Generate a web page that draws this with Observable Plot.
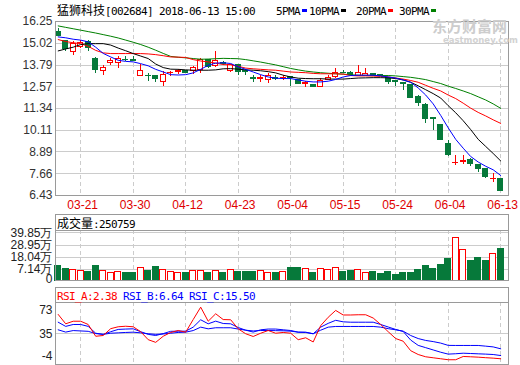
<!DOCTYPE html>
<html><head><meta charset="utf-8">
<script src="https://cdn.jsdelivr.net/npm/d3@7"></script>
<script src="https://cdn.jsdelivr.net/npm/@observablehq/plot@0.6"></script>
<style>
html,body{margin:0;padding:0;background:#fff;}
#wrap{position:relative;width:520px;height:365px;overflow:hidden;}
.abs{position:absolute;}
.line{position:absolute;height:14px;line-height:14px;white-space:nowrap;color:#000;}
.c{font-family:"Noto Sans CJK SC",sans-serif;font-size:12px;}
.a{font-family:"DejaVu Sans Mono",monospace;font-size:11px;letter-spacing:-0.62px;}
.sq{display:inline-block;width:5px;height:3px;margin-left:2px;vertical-align:middle;position:relative;top:-1px;}
.hdr{position:absolute;left:55px;width:454px;border:1px solid #999;border-bottom:none;box-sizing:border-box;}
.wm1{position:absolute;left:432px;top:17px;font-family:"Noto Sans CJK SC",sans-serif;font-weight:bold;font-size:15px;color:#cdcdcd;line-height:17px;}
.wm2{position:absolute;left:443px;top:36px;font-family:"DejaVu Sans",sans-serif;font-weight:bold;font-size:8.5px;color:#d2d2d2;line-height:9px;}
</style></head>
<body><div id="wrap"></div>
<script>
// ---------- data ----------
const dateLabels = ["03-21","03-30","04-12","04-23","05-04","05-15","05-24","06-04","06-13"];
const dateIdx = [3,10,17,24,31,38,45,52,59];
const priceTicks = [16.25,15.02,13.79,12.57,11.34,10.11,8.89,7.66,6.43];
const volTicks = [39.85,28.95,18.04,7.14];
const rsiTicks = [73,35,-4];

const opens = [15.63,15.14,14.54,14.82,15.10,14.16,13.44,13.89,13.91,14.10,14.05,13.18,13.20,13.16,12.84,13.33,13.40,13.43,13.44,13.50,14.09,13.72,13.90,13.48,13.78,13.43,13.06,13.02,12.93,13.06,13.05,13.10,12.93,12.73,12.65,12.56,12.93,13.12,13.37,13.32,13.20,13.18,13.28,13.24,13.07,12.87,12.76,12.69,11.99,11.56,10.78,10.42,9.35,8.25,8.33,8.46,8.16,7.94,7.35,7.37];
const highs = [15.85,15.20,15.12,15.18,15.20,14.20,13.78,14.16,14.27,14.30,14.25,13.82,13.31,13.22,13.40,13.44,13.52,13.47,13.73,14.16,14.12,14.57,14.00,13.85,13.85,13.55,13.22,13.18,13.30,13.18,13.22,13.15,12.97,12.86,12.68,13.05,13.18,13.59,13.50,13.40,13.74,13.59,13.32,13.28,13.10,12.90,12.80,12.72,12.05,11.60,10.80,10.45,9.52,8.69,8.67,8.50,8.20,7.98,7.65,7.40];
const lows = [15.40,14.55,14.31,14.75,14.53,13.31,13.18,13.78,13.59,14.00,13.97,13.18,12.87,12.78,12.56,13.12,13.27,13.30,13.25,13.31,13.60,13.66,13.78,13.35,13.20,13.20,12.80,12.78,12.75,12.90,12.90,12.56,12.70,12.50,12.52,12.54,12.90,13.05,13.30,13.15,13.15,13.12,13.15,13.14,12.70,12.60,12.37,11.90,11.47,10.48,10.10,9.55,8.65,8.10,8.20,8.05,7.75,7.40,7.18,6.65];
const closes = [15.42,14.72,15.00,15.05,14.73,13.50,13.63,14.00,14.14,14.07,14.02,13.46,13.15,13.03,13.25,13.36,13.43,13.33,13.63,14.10,13.66,14.00,13.87,13.78,13.40,13.39,13.03,13.05,13.18,13.03,13.08,13.06,12.75,12.76,12.56,12.88,13.06,13.37,13.34,13.22,13.35,13.26,13.20,13.20,12.84,12.83,12.73,11.93,11.67,10.76,10.74,9.59,8.69,8.28,8.36,8.22,7.94,7.47,7.38,6.71];

const ma5 = [15.38,15.33,15.25,15.2,15.1,14.8,14.45,14.25,14.06,14.0,13.97,13.87,13.75,13.55,13.4,13.25,13.23,13.25,13.35,13.55,13.78,13.9,13.92,13.88,13.69,13.55,13.4,13.25,13.12,13.05,13.03,13.03,12.95,12.88,12.84,12.84,12.88,12.98,13.12,13.2,13.22,13.22,13.22,13.18,13.12,13.06,12.95,12.82,12.5,12.1,11.6,10.95,10.25,9.6,9.1,8.63,8.32,8.08,7.88,7.56];
const ma10 = [14.59,14.7,14.8,14.95,15.0,15.0,15.0,14.92,14.75,14.6,14.44,14.3,14.16,13.85,13.65,13.56,13.55,13.52,13.5,13.5,13.5,13.52,13.58,13.59,13.56,13.52,13.5,13.47,13.42,13.35,13.22,13.12,13.05,13.03,13.02,13.02,13.0,13.0,13.0,13.03,13.06,13.07,13.08,13.08,13.07,13.03,12.95,12.82,12.62,12.4,12.18,11.93,11.5,11.1,10.65,10.15,9.6,9.2,8.8,8.38];
const ma20 = [15.23,15.12,15.05,15.0,14.85,14.62,14.48,14.44,14.44,14.44,14.44,14.44,14.42,14.38,14.32,14.25,14.24,14.22,14.1,14.02,13.97,13.9,13.82,13.8,13.72,13.62,13.58,13.55,13.52,13.5,13.45,13.4,13.38,13.36,13.32,13.3,13.3,13.3,13.28,13.2,13.18,13.18,13.17,13.15,13.12,13.06,13.0,12.92,12.82,12.65,12.48,12.33,12.1,11.9,11.64,11.36,11.12,10.92,10.7,10.5];
const ma30 = [16.0,15.92,15.84,15.76,15.68,15.6,15.51,15.42,15.32,15.2,15.08,14.95,14.8,14.63,14.45,14.28,14.23,14.2,14.16,14.12,14.13,14.15,14.17,14.16,14.15,14.1,14.03,13.96,13.88,13.8,13.7,13.6,13.52,13.45,13.4,13.36,13.33,13.3,13.28,13.24,13.22,13.21,13.21,13.2,13.2,13.18,13.14,13.1,13.04,12.97,12.86,12.75,12.6,12.47,12.33,12.18,12.0,11.82,11.6,11.35];

// volume in 万
const volumes = [9.9,8.1,6.9,6.3,4.8,9.9,5.7,4.5,5.2,3.9,3.9,8.7,6.3,9.0,6.9,4.8,3.9,3.9,5.7,6.3,3.9,6.3,3.9,6.9,5.4,5.4,5.4,5.7,3.9,4.3,5.2,8.7,8.7,7.5,4.5,7.5,6.6,8.7,5.4,6.3,6.6,4.3,5.2,3.6,5.2,2.75,4.5,4.5,7.2,9.9,8.1,11.0,17.0,35.5,24.8,15.2,17.9,15.2,20.6,25.0759];

const rsiA = [60.7,48.4,51.8,51.8,47.5,32,33,42,44.5,45.2,44.5,38,27.5,24,32,37,39.6,37.4,54,70.3,51.8,61.6,54,53.7,41.8,35.3,31.7,36,39.6,36,37,36,27.5,30,24.5,46,57,66,60,60,60.3,60.3,56,47.5,38,29,25.5,13,8,5,3.7,2.4,1.1,1.1,5.4,5,4.5,3.8,3.2,2.38];
const rsiB = [50.5,45,47.5,47.5,45,36,34.5,38,41,41.5,41.8,38,34.5,33,35.5,38.5,38.7,38.7,44,53.7,48.4,51.9,48.8,48.4,43.5,40,37.5,40.5,41.5,41.5,40.5,39.6,37.4,37.4,35.3,44,49,53,51,50.5,50.5,50.5,50.5,47.5,44.2,41,38.3,27,20,17,14,11,8.5,9,9.7,9.3,8.9,8.5,8,6.64];
const rsiC = [40.5,37.5,39.5,39,38.5,35.5,34.5,36,36.5,37,37.4,36.5,35.3,34.5,35,36,37,37.4,39.5,44,41.8,43.2,43.2,43.2,41.5,40,39,39.6,39.6,39.4,39.2,38.7,37.4,37,35.3,40,44,44.9,44.9,44.9,44.9,44.9,44.9,44,42,40.5,38.7,33,29,26.5,25,23,20,19.9,19.9,19.9,19.9,19,18,15.5];

// ---------- build ----------
const red = "#ff0000", green = "#06793a", grid = "#cccccc", frameC = "#9a9a9a";
const rows = closes.map((c, i) => ({
  i, open: opens[i], high: highs[i], low: lows[i], close: c, up: c >= opens[i],
  ma5: ma5[i], ma10: ma10[i], ma20: ma20[i], ma30: ma30[i],
  vol: volumes[i], rA: rsiA[i], rB: rsiB[i], rC: rsiC[i]
}));
const xDomain = [-0.36, 60.04];
const baseStyle = {fontFamily: "'Liberation Sans', Arial, sans-serif", fontSize: "12px", background: "transparent", overflow: "visible"};
const vgrid = () => Plot.gridX(dateIdx, {stroke: grid, strokeOpacity: 1, strokeDasharray: "4,3", shapeRendering: "crispEdges"});

const wrap = document.getElementById("wrap");
function place(el, top) { el.style.position = "absolute"; el.style.left = "0px"; el.style.top = top + "px"; wrap.appendChild(el); }

// main price panel
const main = Plot.plot({
  width: 520, height: 200, marginLeft: 55, marginRight: 12, marginTop: 7, marginBottom: 19,
  x: {domain: xDomain, axis: null, label: null},
  y: {domain: [6.43, 16.25], axis: null, label: null},
  color: {type: "identity"},
  style: baseStyle,
  marks: [
    Plot.gridY(priceTicks, {stroke: grid, strokeOpacity: 1, shapeRendering: "crispEdges"}),
    vgrid(),
    Plot.axisY(priceTicks, {tickSize: 0, tickPadding: 3, label: null, tickFormat: d => d.toFixed(2), fill: "#333"}),
    Plot.axisX(dateIdx, {tickSize: 0, tickPadding: 5, dx: 2, label: null, tickFormat: i => dateLabels[dateIdx.indexOf(i)], fill: "#e00000"}),
    Plot.ruleX(rows, {x: "i", y1: "low", y2: "high", stroke: d => d.up ? red : green, strokeWidth: 1, shapeRendering: "crispEdges"}),
    Plot.rect(rows, {x1: d => d.i - 0.36, x2: d => d.i + 0.36,
      y1: d => Math.min(d.open, d.close), y2: d => Math.max(d.open, d.close),
      fill: d => d.up ? "#ffffff" : green, stroke: d => d.up ? red : green, strokeWidth: 1, shapeRendering: "crispEdges"}),
    Plot.line(rows, {x: "i", y: "ma30", stroke: "#008000", strokeWidth: 1}),
    Plot.line(rows, {x: "i", y: "ma20", stroke: "#ff0000", strokeWidth: 1}),
    Plot.line(rows, {x: "i", y: "ma10", stroke: "#000000", strokeWidth: 1}),
    Plot.line(rows, {x: "i", y: "ma5", stroke: "#0000ff", strokeWidth: 1}),
    Plot.frame({stroke: frameC, shapeRendering: "crispEdges"})
  ]
});
place(main, 14);

// volume panel
const volDomain = [-2.6, 42.0];
const volFmt = d => d === 0 ? "0" : d.toFixed(2) + "万";
const vol = Plot.plot({
  width: 520, height: 52, marginLeft: 55, marginRight: 12, marginTop: 1, marginBottom: 1,
  x: {domain: xDomain, axis: null, label: null},
  y: {domain: volDomain, axis: null, label: null},
  color: {type: "identity"},
  style: baseStyle,
  marks: [
    Plot.gridY(volTicks, {stroke: grid, strokeOpacity: 1, shapeRendering: "crispEdges"}),
    vgrid(),
    Plot.axisY(volTicks, {tickSize: 0, tickPadding: 3, label: null, tickFormat: volFmt, fill: "#222"}),
    Plot.axisY([0], {tickSize: 0, tickPadding: 3, label: null, tickFormat: volFmt, fill: "#222", dy: 2}),
    Plot.rect(rows, {x1: d => d.i - 0.4, x2: d => d.i + 0.4, y1: volDomain[0], y2: "vol",
      fill: d => d.up ? "#ffffff" : green, stroke: d => d.up ? red : green, strokeWidth: 1, shapeRendering: "crispEdges"}),
    Plot.frame({stroke: frameC, shapeRendering: "crispEdges"})
  ]
});
place(vol, 229);

// RSI panel
const rsi = Plot.plot({
  width: 520, height: 65, marginLeft: 55, marginRight: 12, marginTop: 1.5, marginBottom: 1.5,
  x: {domain: xDomain, axis: null, label: null},
  y: {domain: [-4.5, 77.1], axis: null, label: null},
  style: baseStyle,
  marks: [
    Plot.gridY([rsiTicks[1]], {stroke: grid, strokeOpacity: 1, shapeRendering: "crispEdges"}),
    vgrid(),
    Plot.axisY([rsiTicks[0]], {tickSize: 0, tickPadding: 3, label: null, fill: "#222", dy: 5}),
    Plot.axisY([rsiTicks[1]], {tickSize: 0, tickPadding: 3, label: null, fill: "#222"}),
    Plot.axisY([rsiTicks[2]], {tickSize: 0, tickPadding: 3, label: null, fill: "#222", dy: -7, tickFormat: d => String(d)}),
    Plot.line(rows, {x: "i", y: "rC", stroke: "#0000ff", strokeWidth: 1}),
    Plot.line(rows, {x: "i", y: "rB", stroke: "#0000ff", strokeWidth: 1}),
    Plot.line(rows, {x: "i", y: "rA", stroke: "#ff0000", strokeWidth: 1}),
    Plot.frame({stroke: frameC, shapeRendering: "crispEdges"})
  ]
});
place(rsi, 300);

// ---------- texts (title, legend, headers, watermark) ----------
function div(cls, style, html) { const d = document.createElement("div"); d.className = cls; d.setAttribute("style", style); d.innerHTML = html; wrap.appendChild(d); return d; }
div("wm1", "", "东方财富网");
div("wm2", "", "eastmoney.com");
div("line", "left:57px;top:3px;", '<span class="c">猛狮科技</span><span class="a">[002684] 2018-06-13 15:00</span>');
const legend = [["5PMA","#0000ff",276],["10PMA","#000000",309],["20PMA","#ff0000",356],["30PMA","#008000",399]];
legend.forEach(([t, c, x]) => div("line", `left:${x}px;top:3px;`, `<span class="a">${t}</span><span class="sq" style="background:${c}"></span>`));
div("hdr", "top:214px;height:16px;", "");
div("line", "left:57px;top:216px;", `<span class="c">成交量</span><span class="a">:${Math.round(volumes[volumes.length-1]*10000)}</span>`);
div("hdr", "top:287px;height:15px;", "");
const last = rows[rows.length - 1];
div("line", "left:57px;top:288px;",
  `<span class="a" style="color:#ff0000">RSI_A:${last.rA.toFixed(2)} </span><span class="a" style="color:#0000ff">RSI_B:${last.rB.toFixed(2)} </span><span class="a" style="color:#0000ff">RSI_C:${last.rC.toFixed(2)}</span>`);
</script></body></html>
